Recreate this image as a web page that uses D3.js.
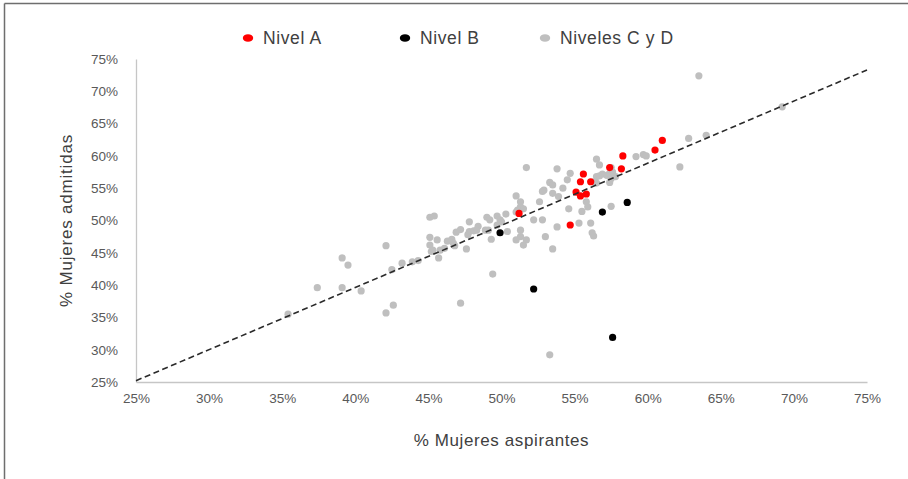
<!DOCTYPE html>
<html>
<head>
<meta charset="utf-8">
<script src="https://cdn.jsdelivr.net/npm/d3@7"></script>
<style>
  body { margin: 0; background: #fff; }
  text { font-family: "Liberation Sans", Arial, sans-serif; }
</style>
</head>
<body>
<div id="chart"></div>
<script>
// Block
let W = 908, H = 479;
let margin = {top: 59, right: 41, bottom: 97, left: 136},
    width = W - margin.left - margin.right,
    height = H - margin.top - margin.bottom;

// Data: [% aspirantes, % admitidas]
const nivelA = [
    [61.0, 62.4], [60.5, 60.9], [58.3, 60.0], [57.4, 58.2], [58.2, 58.0],
    [55.6, 57.2], [55.4, 56.0], [56.1, 56.0], [55.1, 54.4], [55.8, 54.1],
    [55.4, 53.8], [51.2, 51.1], [54.7, 49.3]
];
const nivelB = [
    [49.9, 48.1], [56.9, 51.3], [58.6, 52.8], [52.2, 39.4], [57.6, 31.9]
];
const nivelesCD = [
    [63.5, 72.4], [69.2, 67.6], [64.0, 63.2], [62.8, 62.7], [62.2, 58.3],
    [59.2, 59.9], [59.7, 60.2], [59.9, 60.0], [56.5, 59.5], [56.7, 58.6],
    [57.5, 58.2], [56.9, 57.2], [57.2, 57.0], [57.4, 57.3], [57.6, 57.5],
    [56.5, 56.8], [56.7, 56.9], [57.5, 56.5], [57.8, 56.8], [56.3, 56.0],
    [56.5, 55.8], [57.4, 55.9], [53.8, 58.0], [54.7, 57.3], [54.5, 56.3],
    [51.7, 58.2], [53.3, 55.9], [53.5, 55.5], [52.9, 54.7], [52.8, 54.5],
    [54.2, 55.0], [53.5, 54.2], [53.9, 53.7], [52.6, 52.9], [55.8, 52.9],
    [55.9, 52.1], [54.6, 51.8], [55.5, 51.4], [57.5, 52.2], [51.0, 53.8],
    [51.3, 52.9], [51.3, 52.1], [51.5, 51.8], [51.1, 51.6], [51.0, 51.3],
    [49.7, 50.7], [50.3, 51.0], [49.9, 50.1], [50.0, 49.8], [49.0, 50.5],
    [49.2, 50.1], [49.7, 49.3], [48.4, 49.1], [47.8, 49.8], [47.2, 48.6],
    [46.9, 48.2], [47.8, 48.3], [48.1, 48.4], [48.3, 48.5], [48.9, 48.5],
    [49.1, 48.5], [49.3, 47.1], [50.4, 48.3], [51.3, 48.5], [52.2, 50.1],
    [52.8, 50.1], [51.3, 47.5], [51.0, 47.0], [51.7, 47.0], [51.5, 46.2],
    [53.0, 47.5], [53.8, 49.0], [55.3, 49.6], [56.1, 49.6], [56.2, 48.1],
    [56.3, 47.6], [53.5, 45.6], [49.4, 41.7], [45.1, 50.5], [45.4, 50.7],
    [45.1, 47.4], [45.6, 47.0], [45.1, 46.2], [45.3, 45.4], [45.2, 45.2],
    [46.3, 46.8], [46.6, 47.1], [46.7, 46.5], [45.7, 44.2], [47.6, 45.6],
    [45.8, 45.4], [46.1, 45.7], [46.8, 46.1], [47.7, 47.8], [42.5, 42.4],
    [43.2, 43.4], [43.9, 43.6], [44.3, 43.8], [42.1, 46.1], [39.1, 44.2],
    [39.5, 43.1], [37.4, 39.6], [39.1, 39.6], [40.4, 39.1], [42.1, 35.7],
    [42.6, 36.9], [47.2, 37.2], [35.4, 35.5], [53.3, 29.2]
];
// dashed trend line
const trend = [[25, 25.2], [75, 73.3]];

const ticks = [25, 30, 35, 40, 45, 50, 55, 60, 65, 70, 75];
const legendItems = [
    {label: 'Nivel A', color: '#ff0000'},
    {label: 'Nivel B', color: '#000000'},
    {label: 'Niveles C y D', color: '#bfbfbf'}
];

const root = d3.select('#chart').append('svg')
    .attr('width', W)
    .attr('height', H);

// outer frame (top and left only)
root.append('line')
    .attr('x1', 4.5).attr('y1', 3.5).attr('x2', W).attr('y2', 3.5)
    .style('stroke', '#6e6e6e').style('stroke-width', 1.5);
root.append('line')
    .attr('x1', 4.5).attr('y1', 3.5).attr('x2', 4.5).attr('y2', H)
    .style('stroke', '#6e6e6e').style('stroke-width', 1.5);

const svg = root.append('g')
    .attr('transform', 'translate(' + margin.left + ',' + margin.top + ')');

let x = d3.scaleLinear().domain([25, 75]).range([0, width]);
let y = d3.scaleLinear().domain([25, 75]).range([height, 0]);

// Axes
let xAxis = svg.append('g')
    .attr('transform', 'translate(0,' + height + ')')
    .call(d3.axisBottom(x).tickValues(ticks).tickSize(0).tickPadding(18)
        .tickFormat(d => d + '%'));
let yAxis = svg.append('g')
    .call(d3.axisLeft(y).tickValues(ticks).tickSize(0).tickPadding(18)
        .tickFormat(d => d + '%'));

[xAxis, yAxis].forEach(a => {
    a.select('.domain').style('stroke', '#c6c6c6').style('stroke-width', 1.3);
    a.selectAll('text')
        .style('font-size', '13.5px')
        .style('fill', '#595959');
});
xAxis.selectAll('text').attr('dy', '0.2em');

// points
function drawDots(arr, color) {
    svg.append('g').selectAll('circle')
        .data(arr).enter()
        .append('circle')
        .attr('cx', d => x(d[0]))
        .attr('cy', d => y(d[1]))
        .attr('r', 3.6)
        .style('fill', color);
}
drawDots(nivelesCD, '#bfbfbf');
drawDots(nivelB, '#000000');
drawDots(nivelA, '#ff0000');

// trend line
svg.append('path')
    .datum(trend)
    .attr('d', d3.line().x(d => x(d[0])).y(d => y(d[1])))
    .style('fill', 'none')
    .style('stroke', '#2a2a2a')
    .style('stroke-width', 1.6)
    .style('stroke-dasharray', '6,3.5');

// axis titles
root.append('text')
    .attr('x', margin.left + width / 2)
    .attr('y', 446)
    .attr('text-anchor', 'middle')
    .style('font-size', '17px')
    .style('letter-spacing', '0.6px')
    .style('fill', '#404040')
    .text('% Mujeres aspirantes');
root.append('text')
    .attr('transform', 'translate(72,' + (margin.top + height / 2) + ') rotate(-90)')
    .attr('text-anchor', 'middle')
    .style('font-size', '17px')
    .style('letter-spacing', '0.8px')
    .style('fill', '#404040')
    .text('% Mujeres admitidas');

// legend
const legendX = [248, 405, 545];
const legend = root.append('g');
legendItems.forEach((it, i) => {
    legend.append('ellipse')
        .attr('cx', legendX[i]).attr('cy', 38)
        .attr('rx', 5.2).attr('ry', 3.8)
        .style('fill', it.color);
    legend.append('text')
        .attr('x', legendX[i] + 15).attr('y', 38)
        .attr('dy', '0.35em')
        .style('font-size', '17.5px')
        .style('letter-spacing', '0.6px')
        .style('fill', '#404040')
        .text(it.label);
});
</script>
</body>
</html>
